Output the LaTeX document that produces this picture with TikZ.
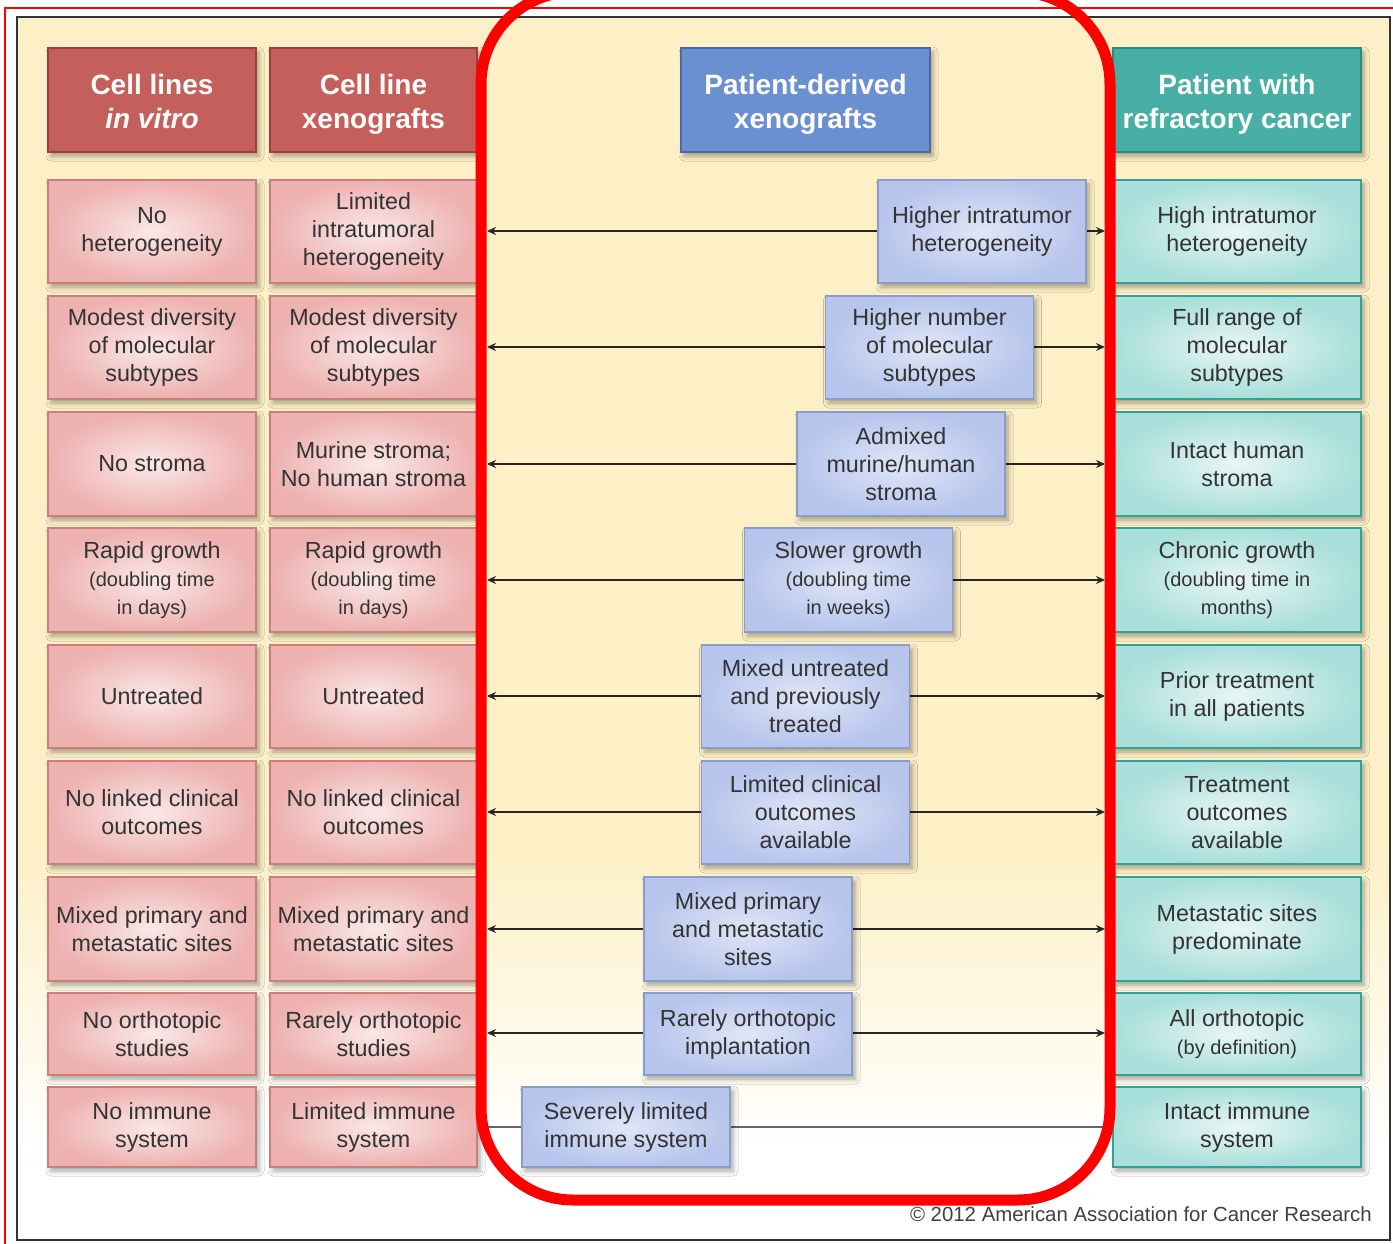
\documentclass[tikz,border=0pt]{standalone}
\usepackage{fontspec}
\setmainfont{Liberation Sans}
\usetikzlibrary{arrows.meta,shadows.blur}
\definecolor{cream}{HTML}{FDF0C6}
\definecolor{hred}{HTML}{C55F5C}
\definecolor{hredb}{HTML}{9E3E3A}
\definecolor{hblue}{HTML}{6A90D2}
\definecolor{hblueb}{HTML}{4A6AA6}
\definecolor{hteal}{HTML}{47AFA5}
\definecolor{htealb}{HTML}{2A8A80}
\definecolor{pinko}{HTML}{EDB1B0}
\definecolor{pinki}{HTML}{FAE8E8}
\definecolor{pinkb}{HTML}{CC7E7C}
\definecolor{blueo}{HTML}{B7C5EC}
\definecolor{bluei}{HTML}{E0E6F7}
\definecolor{blueb}{HTML}{8A9CC8}
\definecolor{tealo}{HTML}{A9DFDA}
\definecolor{teali}{HTML}{E8F6F4}
\definecolor{tealb}{HTML}{35A195}
\definecolor{txt}{HTML}{333333}
\newcommand\bxf{\fontsize{23.3}{28}\selectfont}
\newcommand\smf{\fontsize{20}{24}\selectfont}
\newcommand\hdf{\fontsize{28}{34}\selectfont\bfseries}
\newcommand\hup{\rule{0pt}{28pt}}
\tikzset{
  base/.style={rectangle, inner sep=0pt, align=center, line width=1.2pt,
    blur shadow={shadow xshift=3pt, shadow yshift=-4pt, shadow blur radius=5pt, shadow opacity=35}},
  hdr/.style={base, minimum height=104pt, font=\hdf, text=white!95!pink},
  hr/.style={hdr, fill=hred, draw=hredb, minimum width=208pt},
  hb/.style={hdr, fill=hblue, draw=hblueb, minimum width=249pt},
  ht/.style={hdr, fill=hteal, draw=htealb, minimum width=248pt},
  cell/.style={base, font=\bxf, text=txt, shading=radial},
  pk/.style={cell, inner color=pinki, outer color=pinko, draw=pinkb, minimum width=208pt},
  bl/.style={cell, inner color=bluei, outer color=blueo, draw=blueb, minimum width=208pt},
  tl/.style={cell, inner color=teali, outer color=tealo, draw=tealb, minimum width=248pt},
  hA/.style={minimum height=103pt},
  hB/.style={minimum height=104pt},
  hC/.style={minimum height=82pt},
  hD/.style={minimum height=80pt},
  conn/.style={draw=black!85, line width=1.6pt, -{Stealth[length=9pt,width=8pt]}},
}
\begin{document}
\begin{tikzpicture}[x=1pt,y=-1pt]
\useasboundingbox (0,0) rectangle (1393,1244);
\fill[white] (0,0) rectangle (1393,1244);
\fill[cream] (17,17) rectangle (1390,851);
\shade[top color=cream, bottom color=white] (17,850) rectangle (1390,1151);
\fill[white] (17,1150) rectangle (1390,1240);
\draw[red, line width=2pt] (5,1260) -- (5,8) -- (1400,8);
\draw[black!80, line width=2.5pt] (17,17) rectangle (1390,1240);

% headers
\node[hr] (h1) at (152,100) {\hup Cell lines\\\itshape in vitro\vphantom{g}};
\node[hr, minimum width=207pt] (h2) at (373.5,100) {\hup Cell line\\xenografts};
\node[hb] (h3) at (805.5,100) {\hup Patient-derived\\xenografts};
\node[ht] (h4) at (1237,100) {\hup Patient with\\refractory cancer};

% connector end points
\foreach \i/\y in {1/231,2/347,3/464,4/580,5/696,6/812,7/929,8/1033}{
  \coordinate (L\i) at (487,\y);
  \coordinate (R\i) at (1105,\y);
}

% row 1
\node[pk,hA] (a1) at (152,231.5) {No\\heterogeneity};
\node[pk,hA,minimum width=207pt] (c1) at (373.5,231.5) {Limited\\intratumoral\\heterogeneity};
\node[tl,hA] (t1) at (1237,231.5) {High intratumor\\heterogeneity};
% row 2
\node[pk,hA] (a2) at (152,347.5) {Modest diversity\\of molecular\\subtypes};
\node[pk,hA,minimum width=207pt] (c2) at (373.5,347.5) {Modest diversity\\of molecular\\subtypes};
\node[tl,hA] (t2) at (1237,347.5) {Full range of\\molecular\\subtypes};
% row 3
\node[pk,hB] (a3) at (152,464) {No stroma};
\node[pk,hB,minimum width=207pt] (c3) at (373.5,464) {Murine stroma;\\No human stroma};
\node[tl,hB] (t3) at (1237,464) {Intact human\\stroma};
% row 4
\node[pk,hB] (a4) at (152,580) {Rapid growth\\\smf(doubling time\\\smf in days)};
\node[pk,hB,minimum width=207pt] (c4) at (373.5,580) {Rapid growth\\\smf(doubling time\\\smf in days)};
\node[tl,hB] (t4) at (1237,580) {Chronic growth\\\smf(doubling time in\\\smf months)};
% row 5
\node[pk,hA] (a5) at (152,696.5) {Untreated};
\node[pk,hA,minimum width=207pt] (c5) at (373.5,696.5) {Untreated};
\node[tl,hA] (t5) at (1237,696.5) {Prior treatment\\in all patients};
% row 6
\node[pk,hA] (a6) at (152,812.5) {No linked clinical\\outcomes};
\node[pk,hA,minimum width=207pt] (c6) at (373.5,812.5) {No linked clinical\\outcomes};
\node[tl,hA] (t6) at (1237,812.5) {Treatment\\outcomes\\available};
% row 7
\node[pk,hB] (a7) at (152,929) {Mixed primary and\\metastatic sites};
\node[pk,hB,minimum width=207pt] (c7) at (373.5,929) {Mixed primary and\\metastatic sites};
\node[tl,hB] (t7) at (1237,929) {Metastatic sites\\predominate};
% row 8
\node[pk,hC] (a8) at (152,1034) {No orthotopic\\studies};
\node[pk,hC,minimum width=207pt] (c8) at (373.5,1034) {Rarely orthotopic\\studies};
\node[tl,hC] (t8) at (1237,1034) {All orthotopic\\\smf(by definition)};
% row 9
\node[pk,hD] (a9) at (152,1127) {No immune\\system};
\node[pk,hD,minimum width=207pt] (c9) at (373.5,1127) {Limited immune\\system};
\node[tl,hD] (t9) at (1237,1127) {Intact immune\\system};

% connectors (drawn under blue boxes)
\foreach \i/\x in {1/982,2/929.5,3/901,4/848.5,5/805.5,6/805.5,7/748,8/748}{
  \coordinate (m\i) at (\x,0);
}
\foreach \i in {1,...,8}{
  \draw[conn] (m\i |- L\i) -- (L\i);
  \draw[conn] (m\i |- R\i) -- (R\i);
}
\draw[black!60, line width=1.5pt] (c9.east |- 0,1127) -- (t9.west |- 0,1127);

% blue boxes
\node[bl,hA] (b1) at (982,231.5) {Higher intratumor\\heterogeneity};
\node[bl,hA] (b2) at (929.5,347.5) {Higher number\\of molecular\\subtypes};
\node[bl,hB] (b3) at (901,464) {Admixed\\murine/human\\stroma};
\node[bl,hB] (b4) at (848.5,580) {Slower growth\\\smf(doubling time\\\smf in weeks)};
\node[bl,hA] (b5) at (805.5,696.5) {Mixed untreated\\and previously\\treated};
\node[bl,hA] (b6) at (805.5,812.5) {Limited clinical\\outcomes\\available};
\node[bl,hB] (b7) at (748,929) {Mixed primary\\and metastatic\\sites};
\node[bl,hC] (b8) at (748,1034) {Rarely orthotopic\\implantation};
\node[bl,hD] (b9) at (626,1127) {Severely limited\\immune system};

% copyright
\node[anchor=east, font=\fontsize{20.4}{22}\selectfont, text=black!75, inner sep=0pt] (cp) at (1372,1214) {© 2012 American Association for Cancer Research};

% red highlight
\draw[red, line width=11pt, rounded corners=92pt] (481,-8) rectangle (1110,1200);
\end{tikzpicture}
\end{document}
